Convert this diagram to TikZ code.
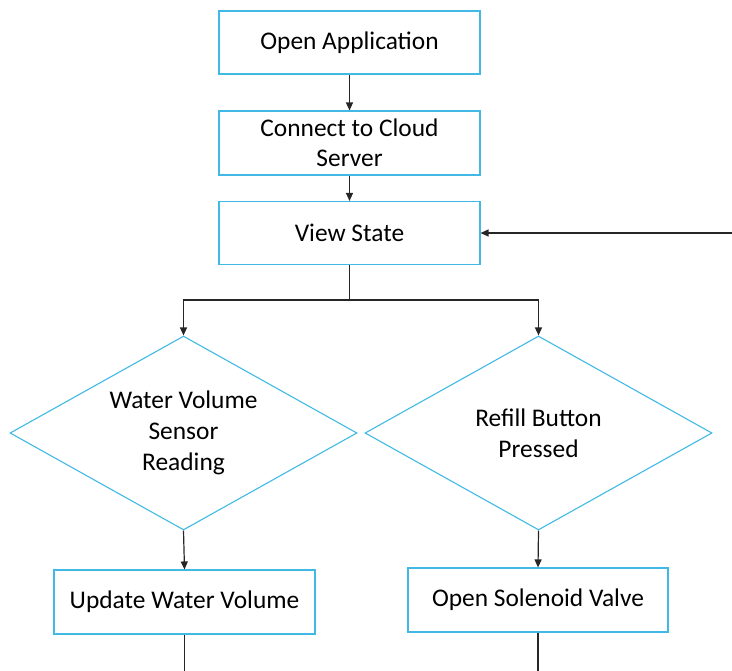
\documentclass[tikz,border=0pt]{standalone}
\usepackage{fontspec}
\setmainfont{Carlito}
\usetikzlibrary{arrows.meta,shapes.geometric}
\definecolor{boxblue}{RGB}{64,186,228}
\begin{document}
\begin{tikzpicture}[x=1bp,y=-1bp,
  proc/.style={draw=boxblue,line width=1.1bp,rectangle,minimum width=261bp,minimum height=63bp,inner sep=0pt,align=center,font=\fontsize{25.5}{30.5}\selectfont},
  dec/.style={draw=boxblue,line width=1.1bp,diamond,minimum width=347bp,minimum height=194bp,inner sep=0pt,aspect=1.79,align=center,font=\fontsize{25.5}{31}\selectfont},
  conn/.style={draw=black!85,line width=1.2bp},
  arr/.style={conn,-{Triangle[length=8bp,width=7bp]}}]
\useasboundingbox (0,0) rectangle (732,671);
\node[proc] (open) at (349.5,42.5) {Open Application};
\node[proc,minimum height=64bp] (conn) at (349.5,143) {Connect to Cloud\\Server};
\node[proc] (view) at (349.5,233) {View State};
\node[dec] (wv) at (183.5,433) {Water Volume\\Sensor\\Reading};
\node[dec] (rb) at (538.5,433) {Refill Button\\Pressed};
\node[proc,minimum width=261bp,minimum height=64bp] (upd) at (184.5,602) {Update Water Volume};
\node[proc,minimum width=260bp,minimum height=64bp] (sol) at (538,600) {Open Solenoid Valve};
\coordinate (split) at (349.5,300);
\coordinate (loopin) at (732,233);
\coordinate (endl) at (184.5,671);
\coordinate (endr) at (538,671);
\draw[arr] (open) -- (conn);
\draw[arr] (conn) -- (view);
\draw[arr] (loopin) -- (view.east);
\draw[conn] (view.south) -- (split);
\draw[arr] (split) -| (wv.north);
\draw[arr] (split) -| (rb.north);
\draw[arr] (wv.south) -- (upd.north);
\draw[arr] (rb.south) -- (sol.north);
\draw[conn] (upd.south) -- (endl);
\draw[conn] (sol.south) -- (endr);
\end{tikzpicture}
\end{document}
